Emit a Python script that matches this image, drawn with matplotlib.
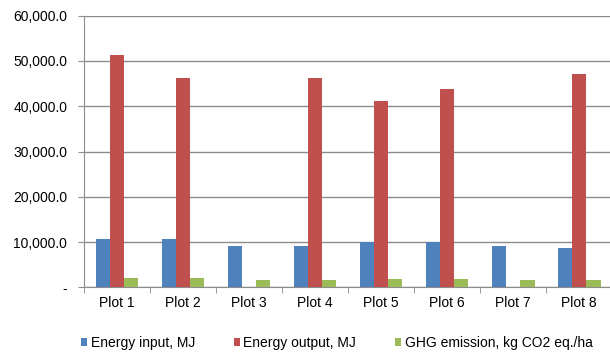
import numpy as np
import matplotlib.pyplot as plt
from matplotlib.ticker import FuncFormatter

plt.rcParams['font.family'] = ['Liberation Sans', 'DejaVu Sans']

plots = ['Plot 1', 'Plot 2', 'Plot 3', 'Plot 4', 'Plot 5', 'Plot 6', 'Plot 7', 'Plot 8']
energy_input = [10600, 10600, 9150, 9100, 10100, 10100, 9150, 8800]
energy_output = [51400, 46300, 0, 46300, 41200, 43800, 0, 47100]
ghg_emission = [2200, 2200, 1650, 1650, 1900, 1900, 1650, 1650]

x = np.arange(len(plots))
w = 0.215

fig = plt.figure(figsize=(6.1, 3.54), dpi=100)
ax = fig.add_axes([0.1377, 0.1879, 0.866, 0.7678])

ax.bar(x - w, energy_input, w, color='#4F81BD', label='Energy input, MJ', zorder=3)
ax.bar(x, energy_output, w, color='#C0504D', label='Energy output, MJ', zorder=3)
ax.bar(x + w, ghg_emission, w, color='#9BBB59', label='GHG emission, kg CO2 eq./ha', zorder=3)

ax.set_xlim(-0.5, len(plots) - 0.5)
ax.set_ylim(0, 60000)
ax.set_yticks(np.arange(0, 60001, 10000))
ax.yaxis.set_major_formatter(FuncFormatter(lambda v, p: '-' if v == 0 else f'{v:,.1f}'))
ax.grid(axis='y', color='#8c8c8c', linewidth=1, zorder=0)

ax.set_xticks(x)
ax.set_xticklabels(plots)
ax.set_xticks(np.arange(-0.5, len(plots)), minor=True)
ax.tick_params(axis='x', which='major', length=0, pad=6, labelsize=10)
ax.tick_params(axis='x', which='minor', length=4, color='#8c8c8c')
ax.tick_params(axis='y', length=4, color='#8c8c8c', labelsize=10, pad=8)

for s in ['top', 'right']:
    ax.spines[s].set_visible(False)
for s in ['left', 'bottom']:
    ax.spines[s].set_color('#8c8c8c')

fig.legend(loc='center', bbox_to_anchor=(0.552, 0.031), ncol=3, frameon=False,
           handlelength=0.45, handleheight=0.45, handletextpad=0.25, columnspacing=2.8,
           fontsize=10)

fig.savefig('out.png', dpi=100)
